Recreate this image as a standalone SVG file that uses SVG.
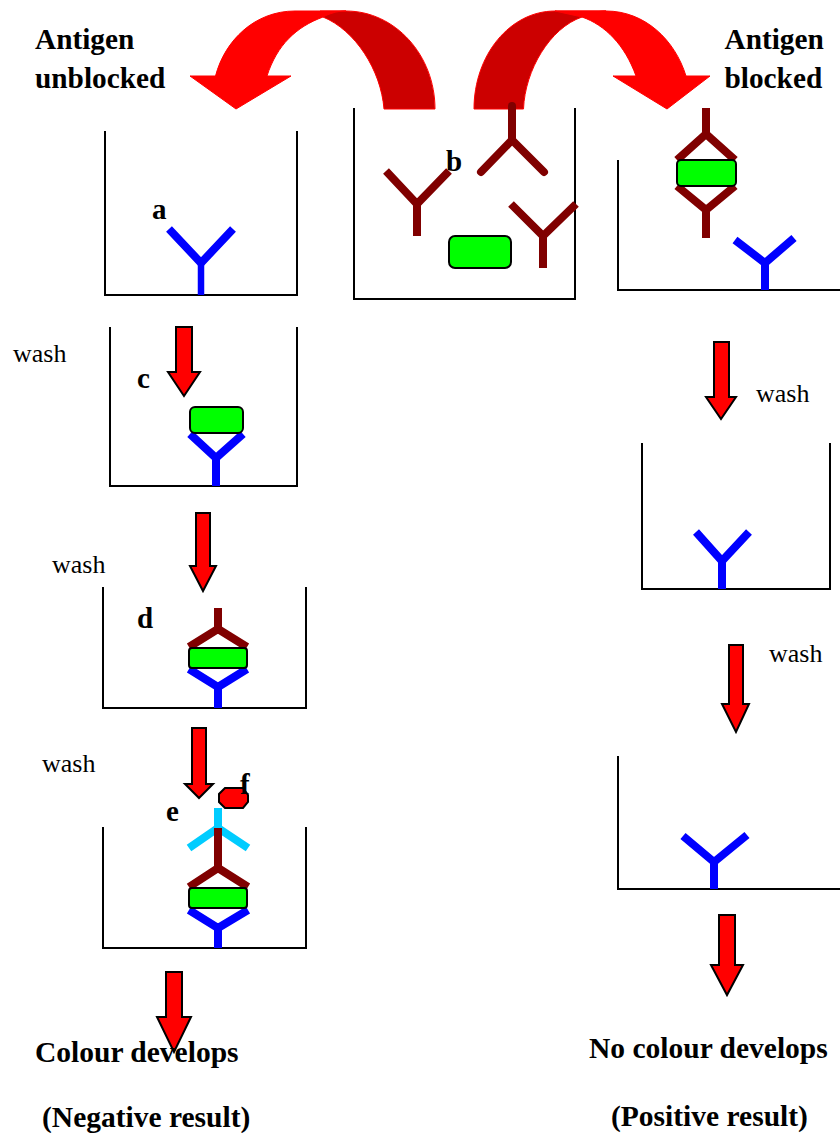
<svg xmlns="http://www.w3.org/2000/svg" width="840" height="1133" viewBox="0 0 840 1133">
<style>
.well{fill:none;stroke:#000;stroke-width:2}
.ab{fill:none;stroke-width:8}
.blue{stroke:#0000ff}
.maroon{stroke:#800000}
.cyan{stroke:#00ccff}
.antigen{fill:#00ff00;stroke:#000;stroke-width:2}
.down{fill:#ff0000;stroke:#000;stroke-width:2}
.curve{fill:#ff0000;stroke:#ff0000;stroke-width:1}
.curve-back{fill:#cc0000;stroke:#ff0000;stroke-width:1}
text{font-family:"Liberation Serif","Times New Roman",serif;fill:#000}
.b{font-weight:bold;font-size:29px}
.l{font-weight:bold;font-size:29.300px}
.r{font-weight:bold;font-size:29.500px}
.w{font-size:26px}
</style>

<g id="connectors">
<path class="curve-back" d="M346 11C395 11 435 55 435 109H384C381 70 355 30 323 17L320 11Z"/>
<path class="curve" d="M295 11H346C336 11 329 14 323 17C296 27 277 45 267 76H291L236 109L190 76H215.500C225 40 255 11 295 11Z"/>
<path class="curve-back" d="M555 11H606C596 11 588 14 582 17C550 28 525 70 523.500 109H474C474 55 510 11 555 11Z"/>
<path class="curve" d="M606 11C645 11 675 40 686 76H710L667 109L613 76H636C625 45 605 25 582 17L555 11Z"/>
<polygon class="down" points="176,327 192,327 192,372 200,372 184,396 168,372 176,372"/>
<polygon class="down" points="196,513 210,513 210,566 216,566 203,591 190,566 196,566"/>
<polygon class="down" points="192,728 206,728 206,784 213,784 199,798 185,784 192,784"/>
<polygon class="down" points="166,972 182,972 182,1017 191,1017 174,1052 157,1017 166,1017"/>
<polygon class="down" points="714,342 729,342 729,397 736,397 721,419 706,397 714,397"/>
<polygon class="down" points="729,645 743,645 743,704 749,704 736,732 722,704 729,704"/>
<polygon class="down" points="719,915 735,915 735,965 743,965 727,995 711,965 719,965"/>
</g>

<g id="well-a">
<path class="well" d="M105 131V295H297V131"/>
<path class="ab blue" d="M201 263L169 229M201 263L233 229"/>
<path class="blue" fill="none" stroke-width="6.500" d="M201 295V262"/>
<text class="b" x="152" y="219">a</text>
</g>

<g id="well-b">
<path class="well" d="M354 108V299H575V108"/>
<path class="ab maroon" d="M417 236V204L386 171M417 204L449 171"/>
<path class="ab maroon" d="M512 106V140L481 172M512 140L544 172" stroke-linecap="round"/>
<path class="ab maroon" d="M543 268V236L511 204M543 236L576 204"/>
<rect class="antigen" x="449" y="236" width="62" height="32" rx="6"/>
<text class="b" x="446" y="171">b</text>
</g>

<g id="well-blocked">
<path class="well" d="M618 160V290H840"/>
<path class="ab maroon" d="M706 108V134L677 160M706 134L735 160"/>
<path class="ab maroon" d="M706 238V210L677 186M706 210L735 186"/>
<rect class="antigen" x="677" y="160" width="59" height="26" rx="4"/>
<path class="ab blue" d="M765 290V263L735 240M765 263L794 238"/>
</g>

<g id="well-c">
<path class="well" d="M110 327V486H297V327"/>
<path class="ab blue" d="M216 486V458L190 434M216 458L243 434"/>
<rect class="antigen" x="190" y="407" width="53" height="26" rx="5"/>
<text class="b" x="137" y="388">c</text>
</g>

<g id="well-d">
<path class="well" d="M103 587V708H306V587"/>
<path class="ab blue" d="M218 708V687L189 669M218 687L247 669"/>
<path class="ab maroon" d="M218 608V629L189 647M218 629L247 647"/>
<rect class="antigen" x="189" y="648" width="58" height="20" rx="3"/>
<text class="b" x="137" y="628">d</text>
</g>

<g id="well-e">
<path class="well" d="M103 827V948H306V827"/>
<path class="ab cyan" d="M218 808V828L189 848M218 828L248 848"/>
<path class="ab blue" d="M218 948V928L189 910M218 928L248 910"/>
<path class="ab maroon" d="M218 828V868L189 887M218 868L248 887"/>
<rect class="antigen" x="189" y="888" width="58" height="20" rx="3"/>
<polygon id="enzyme-f" points="225,788 243,788 248,795 248,802 243,808 225,808 219,802 219,794" fill="#ff0000" stroke="#000" stroke-width="2"/>
<text class="b" x="240" y="794">f</text>
<text class="b" x="166" y="821">e</text>
</g>

<g id="well-r2">
<path class="well" d="M642 443V589H830V443"/>
<path class="ab blue" d="M722 589V561L696 532M722 561L749 532"/>
</g>

<g id="well-r3">
<path class="well" d="M618 756V889H840"/>
<path class="ab blue" d="M714 889V862L683 836M714 862L747 835"/>
</g>

<g id="labels">
<text class="l" x="35" y="49">Antigen</text>
<text class="l" x="35" y="88">unblocked</text>
<text class="l" x="724.500" y="49">Antigen</text>
<text class="l" x="724.500" y="88">blocked</text>
<text class="w" x="13" y="362">wash</text>
<text class="w" x="52" y="573">wash</text>
<text class="w" x="42" y="772">wash</text>
<text class="w" x="756" y="402">wash</text>
<text class="w" x="769" y="662">wash</text>
<text class="r" x="35" y="1062">Colour develops</text>
<text class="r" x="42" y="1127">(Negative result)</text>
<text class="r" x="589" y="1058">No colour develops</text>
<text class="r" x="611" y="1126">(Positive result)</text>
</g>
</svg>
